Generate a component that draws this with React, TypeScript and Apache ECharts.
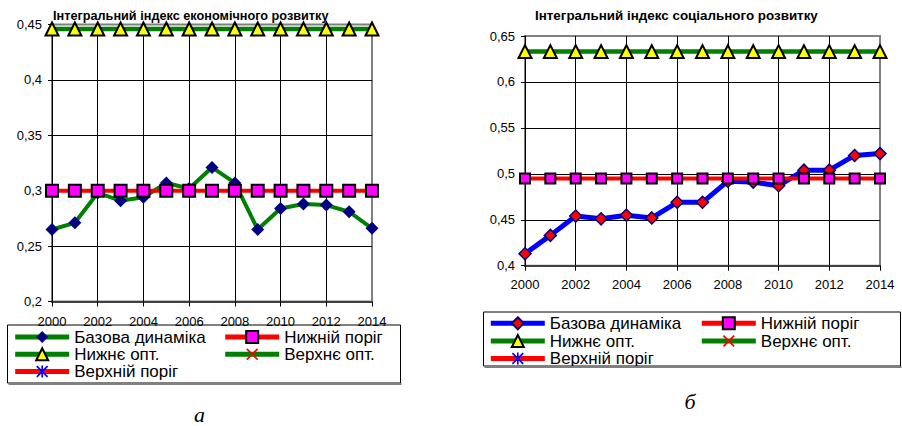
import React, { useEffect, useRef } from 'react';
import * as echarts from 'echarts';

const years = ['2000', '2001', '2002', '2003', '2004', '2005', '2006', '2007', '2008', '2009', '2010', '2011', '2012', '2013', '2014'];

const seriesNames = ['Базова динаміка', 'Нижній поріг', 'Нижнє опт.', 'Верхнє опт.', 'Верхній поріг'];

// Chart "а": integral index of economic development
const econTitle = 'Інтегральний індекс економічного розвитку';
const econBase = [0.265, 0.271, 0.298, 0.291, 0.294, 0.307, 0.302, 0.321, 0.307, 0.265, 0.284, 0.288, 0.287, 0.281, 0.266];
const econLowThreshold = [0.3, 0.3, 0.3, 0.3, 0.3, 0.3, 0.3, 0.3, 0.3, 0.3, 0.3, 0.3, 0.3, 0.3, 0.3];
const econLowOpt = [0.446, 0.446, 0.446, 0.446, 0.446, 0.446, 0.446, 0.446, 0.446, 0.446, 0.446, 0.446, 0.446, 0.446, 0.446];
const econUpOpt: number[] = [];
const econUpThreshold: number[] = [];
const econYTicks = [0.2, 0.45, 0.05];

// Chart "б": integral index of social development
const socTitle = 'Інтегральний індекс соціального розвитку';
const socBase = [0.413, 0.433, 0.454, 0.451, 0.455, 0.452, 0.469, 0.469, 0.492, 0.491, 0.487, 0.504, 0.504, 0.52, 0.522];
const socLowThreshold = [0.495, 0.495, 0.495, 0.495, 0.495, 0.495, 0.495, 0.495, 0.495, 0.495, 0.495, 0.495, 0.495, 0.495, 0.495];
const socLowOpt = [0.633, 0.633, 0.633, 0.633, 0.633, 0.633, 0.633, 0.633, 0.633, 0.633, 0.633, 0.633, 0.633, 0.633, 0.633];
const socUpOpt: number[] = [];
const socUpThreshold: number[] = [];
const socYTicks = [0.4, 0.65, 0.05];

const FONT = '"Liberation Sans", Arial, sans-serif';
const SERIF = '"Liberation Serif", "Times New Roman", serif';
const X_PATH = 'path://M0,1L1,0L5,4L9,0L10,1L6,5L10,9L9,10L5,6L1,10L0,9L4,5Z';
const AST_PATH = 'path://M0,1L1,0L4.3,3.3L4.3,0L5.7,0L5.7,3.3L9,0L10,1L6,5L10,9L9,10L5.7,6.7L5.7,10L4.3,10L4.3,6.7L1,10L0,9L4,5Z';

type Cfg = {
  title: string;
  titleX: number;
  titleY: number;
  titleSize: number;
  grid: { left: number; top: number; width: number; height: number };
  yTicks: number[];
  labelMargin: number;
  base: number[];
  lowThr: number[];
  lowOpt: number[];
  upOpt: number[];
  upThr: number[];
  baseLine: string;
  baseLineWidth: number;
  baseFill: string;
  baseBorder: number;
  squareSize: number;
  diamondSize: number;
  legendCols: number[];
  legendRows: number[];
  box: { x: number; y: number; w: number; h: number };
  clip: boolean;
  letter: string;
  letterX: number;
  letterY: number;
};

function makeOption(c: Cfg) {
  const last = years.length - 1;
  const fmt = (v: number) => String(Number(v.toFixed(2))).replace('.', ',');
  const legendItem = (name: string, col: number, row: number) => ({
    data: [name],
    orient: 'vertical',
    left: c.legendCols[col],
    top: c.legendRows[row] - 7.5,
    padding: 0,
    itemWidth: 54,
    itemHeight: 15,
    selectedMode: false,
    lineStyle: { width: 5 },
    textStyle: { fontFamily: FONT, fontSize: 17, color: '#000', lineHeight: 15 },
  });
  const nTicks = Math.round((c.yTicks[1] - c.yTicks[0]) / c.yTicks[2]) + 1;
  const splitColors = Array.from({ length: nTicks }, (_, i) => (i === nTicks - 1 ? '#808080' : '#000'));
  const graphics: any[] = [
    {
      type: 'text',
      x: c.titleX,
      y: c.titleY,
      style: { text: c.title, fontFamily: FONT, fontSize: c.titleSize, fontWeight: 'bold', fill: '#000', align: 'left', verticalAlign: 'middle' },
      z: 20,
    },
    {
      type: 'rect',
      shape: { x: c.box.x, y: c.box.y, width: c.box.w, height: c.box.h },
      style: { fill: '#fff', stroke: '#000', lineWidth: 1 },
      z: 0,
    },
    {
      type: 'line',
      shape: { x1: c.box.x + 1, y1: c.box.y + c.box.h + 1, x2: c.box.x + c.box.w + 1, y2: c.box.y + c.box.h + 1 },
      style: { stroke: '#808080', lineWidth: 2 },
      z: 30,
    },
    {
      type: 'text',
      x: c.letterX,
      y: c.letterY,
      style: { text: c.letter, fontFamily: SERIF, fontSize: 22, fontStyle: 'italic', fill: '#000', align: 'center', verticalAlign: 'middle' },
    },
  ];
  if (c.clip) {
    graphics.push({
      type: 'rect',
      shape: { x: c.box.x - 2, y: c.box.y + c.box.h + 2, width: c.box.w + 6, height: 14 },
      style: { fill: '#fff' },
      z: 25,
    });
  }
  return {
    animation: false,
    backgroundColor: '#fff',
    grid: { ...c.grid, show: true, borderColor: '#808080', borderWidth: 2, backgroundColor: '#fff' },
    xAxis: {
      type: 'category',
      data: years,
      boundaryGap: false,
      axisLine: { lineStyle: { color: '#404040', width: 2 } },
      axisTick: { interval: 1, length: 5, lineStyle: { color: '#000', width: 1 } },
      axisLabel: { interval: 1, margin: c.labelMargin, fontSize: 13, fontFamily: FONT, color: '#000' },
      splitLine: {
        show: true,
        interval: (i: number) => i % 2 === 0 && i !== 0 && i !== last,
        lineStyle: { color: '#000', width: 1 },
      },
    },
    yAxis: {
      type: 'value',
      min: c.yTicks[0],
      max: c.yTicks[1],
      interval: c.yTicks[2],
      axisLine: { show: true, lineStyle: { color: '#000', width: 1 } },
      axisTick: { show: true, length: 4, lineStyle: { color: '#000' } },
      axisLabel: { formatter: fmt, margin: 10, fontSize: 13, fontFamily: FONT, color: '#000' },
      splitLine: { show: true, lineStyle: { color: splitColors, width: 1 } },
    },
    legend: [
      legendItem(seriesNames[0], 0, 0),
      legendItem(seriesNames[2], 0, 1),
      legendItem(seriesNames[4], 0, 2),
      legendItem(seriesNames[1], 1, 0),
      legendItem(seriesNames[3], 1, 1),
    ],
    graphic: graphics,
    series: [
      {
        name: seriesNames[0],
        type: 'line',
        data: c.base,
        symbol: 'diamond',
        symbolSize: c.diamondSize,
        lineStyle: { color: c.baseLine, width: c.baseLineWidth },
        itemStyle: { color: c.baseFill, borderColor: '#000080', borderWidth: c.baseBorder },
        emphasis: { disabled: true },
      },
      {
        name: seriesNames[1],
        type: 'line',
        data: c.lowThr,
        symbol: 'rect',
        symbolSize: c.squareSize,
        lineStyle: { color: '#ff0000', width: 4 },
        itemStyle: { color: '#ff00ff', borderColor: '#000', borderWidth: 2 },
        emphasis: { disabled: true },
      },
      {
        name: seriesNames[2],
        type: 'line',
        data: c.lowOpt,
        symbol: 'triangle',
        symbolSize: 13,
        lineStyle: { color: '#008000', width: 4.5 },
        itemStyle: { color: '#ffff00', borderColor: '#000', borderWidth: 2 },
        emphasis: { disabled: true },
      },
      {
        name: seriesNames[3],
        type: 'line',
        data: c.upOpt,
        symbol: X_PATH,
        symbolSize: 12,
        lineStyle: { color: '#008000', width: 4.5 },
        itemStyle: { color: '#ff0000' },
        emphasis: { disabled: true },
      },
      {
        name: seriesNames[4],
        type: 'line',
        data: c.upThr,
        symbol: AST_PATH,
        symbolSize: 12,
        lineStyle: { color: '#ff0000', width: 4.5 },
        itemStyle: { color: '#0000ff' },
        emphasis: { disabled: true },
      },
    ],
  };
}

const LEFT_W = 451;

const econCfg: Cfg = {
  title: econTitle,
  titleX: 53,
  titleY: 16,
  titleSize: 12.7,
  grid: { left: 52, top: 24.5, width: 320, height: 277 },
  yTicks: econYTicks,
  labelMargin: 13,
  base: econBase,
  lowThr: econLowThreshold,
  lowOpt: econLowOpt,
  upOpt: econUpOpt,
  upThr: econUpThreshold,
  baseLine: '#008000',
  baseLineWidth: 4,
  baseFill: '#000080',
  baseBorder: 0,
  squareSize: 12,
  diamondSize: 13,
  legendCols: [12.7, 222.7],
  legendRows: [336, 353.3, 370.5],
  box: { x: 7.5, y: 325, w: 393, h: 58 },
  clip: false,
  letter: 'а',
  letterX: 199.5,
  letterY: 414,
};

const socCfg: Cfg = {
  title: socTitle,
  titleX: 535 - LEFT_W,
  titleY: 15.7,
  titleSize: 13.4,
  grid: { left: 525 - LEFT_W, top: 36, width: 355, height: 229.7 },
  yTicks: socYTicks,
  labelMargin: 12.5,
  base: socBase,
  lowThr: socLowThreshold,
  lowOpt: socLowOpt,
  upOpt: socUpOpt,
  upThr: socUpThreshold,
  baseLine: '#0000ff',
  baseLineWidth: 5,
  baseFill: '#ff0000',
  baseBorder: 1.5,
  squareSize: 10,
  diamondSize: 12,
  legendCols: [488.3 - LEFT_W, 699.3 - LEFT_W],
  legendRows: [322.3, 340, 357.5],
  box: { x: 483.5 - LEFT_W, y: 312, w: 417, h: 54 },
  clip: true,
  letter: 'б',
  letterX: 690 - LEFT_W,
  letterY: 401,
};

function Chart({ cfg, left }: { cfg: Cfg; left: number }) {
  const ref = useRef<HTMLDivElement>(null);
  useEffect(() => {
    if (!ref.current) return;
    const chart = echarts.init(ref.current, undefined, { renderer: 'svg' });
    chart.setOption(makeOption(cfg) as any);
    return () => chart.dispose();
  }, [cfg]);
  return (
    <div
      ref={ref}
      style={{ position: 'absolute', left, top: 0, width: LEFT_W, height: 426 }}
    />
  );
}

export default function App() {
  return (
    <div style={{ position: 'fixed', left: 0, top: 0, width: 902, height: 426, background: '#fff', overflow: 'hidden' }}>
      <Chart cfg={econCfg} left={0} />
      <Chart cfg={socCfg} left={LEFT_W} />
    </div>
  );
}
